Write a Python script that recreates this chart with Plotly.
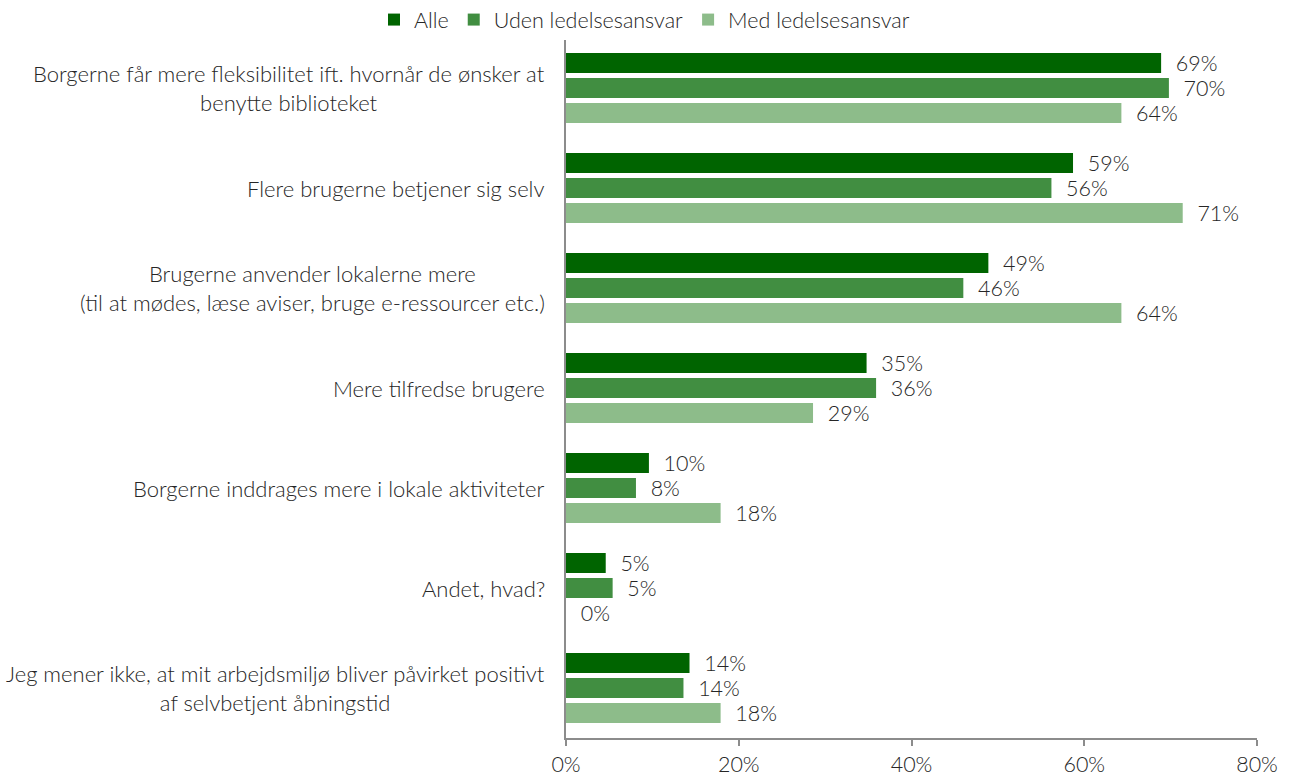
import plotly.graph_objects as go

categories = [
    "Borgerne får mere fleksibilitet ift. hvornår de ønsker at<br>benytte biblioteket",
    "Flere brugerne betjener sig selv",
    "Brugerne anvender lokalerne mere<br>(til at mødes, læse aviser, bruge e-ressourcer etc.)",
    "Mere tilfredse brugere",
    "Borgerne inddrages mere i lokale aktiviteter",
    "Andet, hvad?",
    "Jeg mener ikke, at mit arbejdsmiljø bliver påvirket positivt<br>af selvbetjent åbningstid",
]

series_names = ["Alle", "Uden ledelsesansvar", "Med ledelsesansvar"]
alle = [68.9, 58.7, 48.9, 34.8, 9.6, 4.6, 14.3]
uden = [69.8, 56.2, 46.0, 35.9, 8.1, 5.4, 13.6]
med = [64.3, 71.4, 64.3, 28.6, 17.9, 0.0, 17.9]
colors = ["#006400", "#418e41", "#8dbc8a"]

x_ticks = [0, 20, 40, 60, 80]
x_tick_labels = ["0%", "20%", "40%", "60%", "80%"]

FONT = "Lato, 'Open Sans', sans-serif"
FS = 21.5
TEXT_COLOR = "#262626"
AXIS_COLOR = "#8c8c8c"

fig = go.Figure()
for name, vals, col in zip(series_names, [alle, uden, med], colors):
    fig.add_trace(go.Bar(
        name=name,
        y=list(range(len(categories))),
        x=vals,
        orientation="h",
        marker=dict(color=col, line=dict(width=0)),
        texttemplate="\u00a0\u00a0%{x:.0f}%",
        textposition="outside",
        constraintext="none",
        textfont=dict(family=FONT, size=FS, color=TEXT_COLOR, weight=300),
        cliponaxis=False,
        hoverinfo="skip",
    ))

# category labels: right-aligned block, centred lines
for i, cat in enumerate(categories):
    fig.add_annotation(
        x=0, xref="paper", y=i, yref="y",
        text=cat, showarrow=False,
        xanchor="right", yanchor="middle", align="center",
        xshift=-19,
        font=dict(family=FONT, size=FS + 0.5, color=TEXT_COLOR, weight=300),
    )

fig.update_layout(
    width=1289, height=779,
    margin=dict(l=566, r=32, t=38, b=41, autoexpand=False),
    paper_bgcolor="white", plot_bgcolor="white",
    barmode="group", bargap=0.25, bargroupgap=0.2,
    font=dict(family=FONT, size=FS, color=TEXT_COLOR, weight=300),
    showlegend=True,
    legend=dict(
        orientation="h", xref="container", x=0.5, xanchor="center",
        yref="paper", y=0.997, yanchor="bottom",
        font=dict(family=FONT, size=FS, color=TEXT_COLOR, weight=300),
        traceorder="normal", itemwidth=30,
    ),
    xaxis=dict(
        range=[0, 80], tickvals=x_ticks, ticktext=x_tick_labels,
        showgrid=False, zeroline=False,
        showline=True, linecolor=AXIS_COLOR, linewidth=1.5,
        ticks="outside", ticklen=6, tickcolor=AXIS_COLOR, tickwidth=1.5,
        ticklabelstandoff=0,
        tickfont=dict(family=FONT, size=FS, color=TEXT_COLOR, weight=300),
        fixedrange=True,
    ),
    yaxis=dict(
        range=[len(categories) - 0.5, -0.5],
        showticklabels=False, showgrid=False, zeroline=False,
        showline=True, linecolor=AXIS_COLOR, linewidth=1.5, ticks="",
        fixedrange=True,
    ),
)

fig.write_html("out.html")
